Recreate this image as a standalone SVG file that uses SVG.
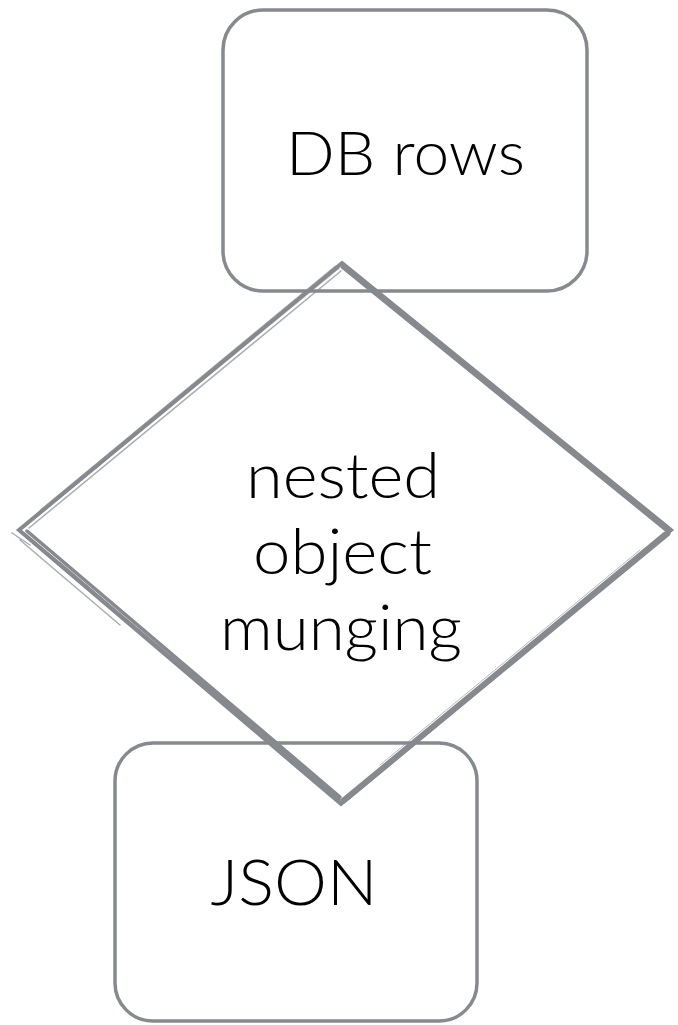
<svg xmlns="http://www.w3.org/2000/svg" width="678" height="1025" viewBox="0 0 678 1025">
<style>
.box{fill:none;stroke:#86898d;stroke-width:3.5}
.lbl{font-family:Lato,"Liberation Sans",sans-serif;font-weight:300;fill:#000;text-anchor:middle}
.sk{fill:none;stroke:#86898d;stroke-linejoin:miter;stroke-linecap:round}
</style>
<rect width="678" height="1025" fill="#fff"/>
<g id="connectors"></g>
<g id="db-rows">
<rect class="box" x="223" y="10" width="364" height="281" rx="40"/>
<text class="lbl" x="405.5" y="175" font-size="61" textLength="239" lengthAdjust="spacingAndGlyphs">DB rows</text>
</g>
<g id="json">
<rect class="box" x="115" y="743" width="362" height="278" rx="38"/>
<text class="lbl" x="294" y="905" font-size="63" textLength="167" lengthAdjust="spacingAndGlyphs">JSON</text>
</g>
<g id="munging">
<path class="sk" stroke-width="4" d="M342,263 L671,530 L341,804 L19,530 Z"/>
<path class="sk" stroke-width="3" d="M342,267 L667,531 M344,268 L668,528"/>
<path class="sk" stroke-width="3" d="M665,533 L342,800 M669,534 L344,802"/>
<path class="sk" stroke-width="3.5" d="M24,534 L339,800 M27,531 L340,797"/>
<path class="sk" stroke-width="1.5" opacity="0.7" d="M339,268 L24,527 M341,271 L29,528 M12,533 L30,545 M20,540 L120,625"/>
<path class="sk" stroke-width="1" opacity="0.6" d="M346,270 L660,524 M350,798 L600,590 M60,562 L300,770 M335,266 L40,510 M640,550 L380,765"/>
<text class="lbl" x="343" y="498" font-size="64" textLength="194" lengthAdjust="spacingAndGlyphs">nested</text>
<text class="lbl" x="342.5" y="574" font-size="64" textLength="179" lengthAdjust="spacingAndGlyphs">object</text>
<text class="lbl" x="341" y="650" font-size="64" textLength="242" lengthAdjust="spacingAndGlyphs">munging</text>
</g>
</svg>
